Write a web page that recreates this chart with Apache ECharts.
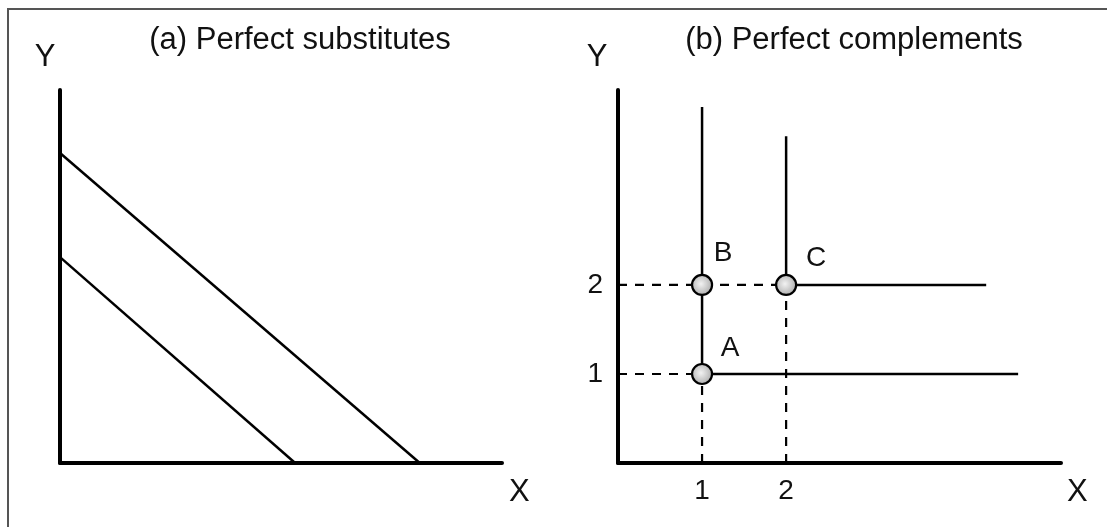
<!DOCTYPE html>
<html>
<head>
<meta charset="utf-8">
<script src="https://cdn.jsdelivr.net/npm/echarts@6/dist/echarts.min.js"></script>
<style>
  html, body { margin: 0; padding: 0; background: #fff; }
  #chart { width: 1107px; height: 527px; }
  #frame {
    position: absolute; left: 7px; top: 8px; width: 1100px; height: 517px;
    border-left: 2px solid #555; border-top: 2px solid #555; border-bottom: 1px solid #b4b4b4;
    pointer-events: none;
  }
</style>
</head>
<body>
<div id="chart"></div>
<div id="frame"></div>
<script>
// panel (a): two straight indifference lines, [x, y] end points
const subsLow = [[0, 5.52], [5.32, 0]];
const subsHigh = [[0, 8.31], [8.14, 0]];

// panel (b): L-shaped indifference curves
const compLow = [[1, 4.0], [1, 1], [4.76, 1]];
const compHigh = [[2, 3.67], [2, 2], [4.38, 2]];

// dashed guides from the axes to the bundles
const guides = [
  [[0, 2], [2, 2]],
  [[0, 1], [1, 1]],
  [[1, 0], [1, 1]],
  [[2, 0], [2, 2]]
];

const pointNames = ['A', 'B', 'C'];
const pointX = [1, 1, 2];
const pointY = [1, 2, 2];
const labelOffsets = [[28, -26], [21, -32], [30, -27]];

const tickValues = [1, 2];
const titles = ['(a) Perfect substitutes', '(b) Perfect complements'];

const FONT = 'Liberation Sans';
const chart = echarts.init(document.getElementById('chart'));

const axisLine = { show: true, lineStyle: { color: '#000', width: 4 } };
const solid = { color: '#000', width: 2.5 };

const xName = { fontFamily: FONT, fontSize: 31, color: '#111', verticalAlign: 'top', padding: [14, 0, 0, 0] };
function yName(shiftLeft) {
  return { fontFamily: FONT, fontSize: 31, color: '#111', padding: [0, shiftLeft, 0, 0] };
}

const tickFmt = function (v) { return tickValues.indexOf(v) >= 0 ? String(v) : ''; };

const series = [
  { type: 'line', xAxisIndex: 0, yAxisIndex: 0, data: subsLow, symbol: 'none', lineStyle: solid, silent: true },
  { type: 'line', xAxisIndex: 0, yAxisIndex: 0, data: subsHigh, symbol: 'none', lineStyle: solid, silent: true }
];

guides.forEach(function (g) {
  series.push({
    type: 'line', xAxisIndex: 1, yAxisIndex: 1, data: g, symbol: 'none', z: 1,
    lineStyle: { color: '#000', width: 2.2, type: [9, 8] }, silent: true
  });
});

series.push(
  { type: 'line', xAxisIndex: 1, yAxisIndex: 1, data: compLow, symbol: 'none', lineStyle: solid, z: 2, silent: true },
  { type: 'line', xAxisIndex: 1, yAxisIndex: 1, data: compHigh, symbol: 'none', lineStyle: solid, z: 2, silent: true },
  {
    type: 'scatter', xAxisIndex: 1, yAxisIndex: 1, zlevel: 1, z: 10, symbol: 'circle', symbolSize: 20,
    itemStyle: {
      opacity: 1,
      color: new echarts.graphic.RadialGradient(0.45, 0.45, 0.6, [
        { offset: 0, color: '#f2f2f2' },
        { offset: 1, color: '#a4a4a4' }
      ]),
      borderColor: '#000', borderWidth: 2.2
    },
    data: pointNames.map(function (n, i) {
      return {
        name: n, value: [pointX[i], pointY[i]],
        label: { offset: labelOffsets[i] }
      };
    }),
    label: {
      show: true, position: 'inside', formatter: '{b}',
      fontFamily: FONT, fontSize: 28, color: '#111'
    }
  }
);

chart.setOption({
  backgroundColor: '#fff',
  animation: false,
  grid: [
    { left: 60, top: 90, width: 442, height: 373 },
    { left: 618, top: 90, width: 443, height: 373 }
  ],
  xAxis: [
    {
      gridIndex: 0, type: 'value', min: 0, max: 10,
      axisLine: axisLine, axisTick: { show: false }, axisLabel: { show: false }, splitLine: { show: false },
      name: 'X', nameLocation: 'end', nameGap: 7, nameTextStyle: xName
    },
    {
      gridIndex: 1, type: 'value', min: 0, max: 5.27, interval: 1,
      axisLine: axisLine, axisTick: { show: false }, splitLine: { show: false },
      axisLabel: { formatter: tickFmt, margin: 14, fontFamily: FONT, fontSize: 28, color: '#111', showMaxLabel: false },
      name: 'X', nameLocation: 'end', nameGap: 6, nameTextStyle: xName
    }
  ],
  yAxis: [
    {
      gridIndex: 0, type: 'value', min: 0, max: 10,
      axisLine: axisLine, axisTick: { show: false }, axisLabel: { show: false }, splitLine: { show: false },
      name: 'Y', nameLocation: 'end', nameGap: 17, nameTextStyle: yName(30)
    },
    {
      gridIndex: 1, type: 'value', min: 0, max: 4.19, interval: 1,
      axisLine: axisLine, axisTick: { show: false }, splitLine: { show: false },
      axisLabel: { formatter: tickFmt, margin: 15, fontFamily: FONT, fontSize: 28, color: '#111', showMaxLabel: false },
      name: 'Y', nameLocation: 'end', nameGap: 17, nameTextStyle: yName(42)
    }
  ],
  graphic: [
    { type: 'text', x: 300, y: 40, style: { text: titles[0], font: '31px "' + FONT + '"', fill: '#111', textAlign: 'center', textVerticalAlign: 'middle' } },
    { type: 'text', x: 854, y: 40, style: { text: titles[1], font: '31px "' + FONT + '"', fill: '#111', textAlign: 'center', textVerticalAlign: 'middle' } }
  ],
  series: series
});
</script>
</body>
</html>
